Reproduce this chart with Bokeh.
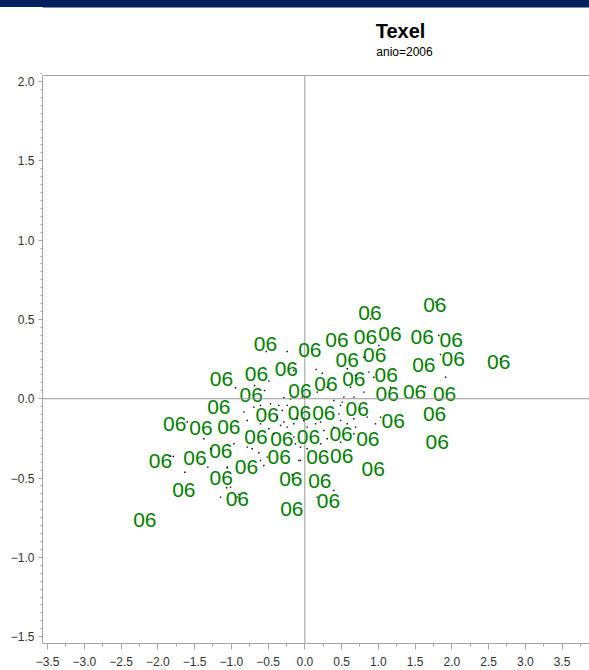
from bokeh.plotting import figure
from bokeh.models import Span, FixedTicker, CustomJSTickFormatter, Range1d, ColumnDataSource
from bokeh.core.properties import value
from bokeh.embed import file_html
from bokeh.resources import INLINE

title_text = "Texel"
subtitle_text = "anio=2006"

# positions of the "06" marker characters (dimension 1, dimension 2)
label_x = [0.887, 1.769, -0.535, 0.068, 0.438, 0.826, 1.159, 1.597, 1.992, 0.577,
           0.952, 1.619, 2.019, 2.639, -1.133, -0.657, -0.252, 0.288, 0.667, 1.107,
           -0.065, -0.729, 1.121, 1.493, 1.901, -1.170, -0.512, -0.072, 0.259, 0.713,
           1.765, -1.769, -1.412, -1.034, 1.203, -1.143, -0.664, -0.313, 0.050, 0.493,
           0.857, 1.801, -1.963, -1.494, -0.348, 0.177, 0.503, -1.137, -0.793, -0.190,
           0.204, 0.931, -1.646, -0.918, 0.322, -0.177, -2.177]
label_y = [0.539, 0.588, 0.347, 0.305, 0.368, 0.388, 0.410, 0.388, 0.368, 0.246,
           0.273, 0.210, 0.252, 0.231, 0.125, 0.158, 0.188, 0.093, 0.126, 0.147,
           0.049, 0.021, 0.032, 0.042, 0.027, -0.049, -0.105, -0.090, -0.090, -0.063,
           -0.095, -0.162, -0.184, -0.181, -0.141, -0.332, -0.242, -0.252, -0.244, -0.223,
           -0.252, -0.274, -0.392, -0.375, -0.368, -0.368, -0.358, -0.498, -0.433, -0.509,
           -0.517, -0.441, -0.576, -0.633, -0.646, -0.694, -0.763]
label_text = ["06"] * len(label_x)

# small black points
dot_x = [-0.525, -0.240, 0.155, 0.237, -0.150, -0.490, -0.548, -0.684, -0.943, -0.286,
         -0.195, -0.035, 0.169, 0.305, 0.395, 0.509, 0.667, -0.694, -0.603, -0.467,
         -0.354, -0.240, -0.308, -0.376, -0.286, -0.331, -0.240, -0.150, -0.104, -0.014,
         0.032, 0.146, 0.214, 0.259, 0.395, 0.486, 0.577, 0.690, -0.830, -0.784,
         -0.603, -0.490, -0.422, -0.150, -0.127, -0.059, 0.032, 0.214, 0.305, 0.486,
         -0.784, -0.966, -0.603, -0.512, -0.716, -1.283, -1.600, -1.374, -1.827, -1.633,
         -1.056, -0.059, 0.169, 0.395, -1.147, -0.920, -1.011,
         0.577, 0.690, 0.871, 0.939, 0.803, 0.622, 0.531, 0.486, 0.463, 0.667,
         0.849, 1.030, 0.962, 1.166, 1.642, 1.914, 1.823, 1.846, 0.894, 1.007,
         0.803, 0.667, 1.782, 2.663,
         -1.790, -1.320, -1.056, -1.065, -0.558, -0.626, -0.082, -0.171, -0.898]
dot_y = [0.298, 0.298, 0.185, 0.161, 0.178, 0.111, 0.052, 0.084, 0.069, 0.006,
         -0.001, 0.010, 0.042, 0.073, -0.011, -0.021, 0.010, -0.053, -0.042, -0.032,
         -0.042, -0.042, -0.074, -0.116, -0.147, -0.168, -0.179, -0.158, -0.126, -0.137,
         -0.179, -0.158, -0.147, -0.200, -0.179, -0.137, -0.158, -0.179, -0.084, -0.137,
         -0.158, -0.189, -0.221, -0.242, -0.284, -0.305, -0.315, -0.284, -0.252, -0.274,
         -0.305, -0.284, -0.389, -0.368, -0.315, -0.315, -0.147, -0.252, -0.362, -0.463,
         -0.431, -0.389, -0.620, -0.578, -0.620, -0.620, -0.557,
         0.189, 0.147, 0.168, 0.136, 0.042, 0.073, 0.010, -0.042, -0.095, -0.126,
         -0.116, -0.116, -0.158, 0.073, 0.073, 0.136, 0.399, 0.279, 0.504, 0.336,
         0.262, -0.221, 0.609, 0.252,
         -0.364, -0.431, -0.435, -0.561, -0.421, -0.340, -0.389, -0.479, -0.603]

x_ticks = [-3.5, -3.0, -2.5, -2.0, -1.5, -1.0, -0.5, 0.0, 0.5, 1.0, 1.5, 2.0, 2.5, 3.0, 3.5]
y_ticks = [-1.5, -1.0, -0.5, 0.0, 0.5, 1.0, 1.5, 2.0]
x_lo, x_hi = -3.569, 3.873
y_lo, y_hi = -1.543, 2.038

FONT = "Liberation Sans"
AXIS_COLOR = "#a6a6a6"
REF_COLOR = "#9a9a9a"

W, H = 589, 670
LEFT, BOTTOM = 42, 27
TOP_PAD = 75                         # pixels between figure top and the axis area top
frame_h = H - BOTTOM                 # frame reaches the figure top
ppu = (frame_h - TOP_PAD) / (y_hi - y_lo)
y_top = y_hi + TOP_PAD / ppu
ppx = (W - LEFT) / (x_hi - x_lo)

def px_to_x(px):
    return x_lo + (px - LEFT) / ppx

def py_to_y(py):
    return y_top - py / ppu

p = figure(width=W, height=H, output_backend="svg", toolbar_location=None,
           x_range=Range1d(x_lo, x_hi), y_range=Range1d(y_lo, y_top),
           min_border_left=LEFT, min_border_right=0, min_border_top=0, min_border_bottom=BOTTOM)
p.styles = {"background": "linear-gradient(#002060 0px, #002060 7px, #ffffff 7px, #ffffff 100%)"}
p.border_fill_color = None
p.background_fill_color = None
p.outline_line_color = None
p.xgrid.visible = False
p.ygrid.visible = False

x_minor = [-3.75 + 0.25 * i for i in range(31)]
y_minor = [round(-1.55 + 0.05 * i, 2) for i in range(73)]
p.xaxis.ticker = FixedTicker(ticks=x_ticks, minor_ticks=x_minor)
p.yaxis.ticker = FixedTicker(ticks=y_ticks, minor_ticks=y_minor)
p.yaxis.bounds = (y_lo, y_hi)
fmt = CustomJSTickFormatter(code="return tick.toFixed(1).replace('-', '\u2212');")
for ax in (p.xaxis, p.yaxis):
    ax.formatter = fmt
    ax.axis_line_color = AXIS_COLOR
    ax.major_tick_line_color = AXIS_COLOR
    ax.minor_tick_line_color = AXIS_COLOR
    ax.major_tick_in = 0
    ax.minor_tick_in = 0
    ax.major_label_text_font = FONT
    ax.major_label_text_font_size = "12px"
    ax.major_label_text_color = "#333333"
p.xaxis.major_tick_out = 6
p.xaxis.minor_tick_out = 3
p.xaxis.major_label_standoff = 7
p.yaxis.major_tick_out = 4
p.yaxis.minor_tick_out = 2
p.yaxis.major_label_standoff = 4

# band at top (inside frame part) as fallback
p.quad(left=x_lo, right=x_hi, top=y_top, bottom=py_to_y(7), fill_color="#002060", line_color=None)

# reference lines and frame top
p.add_layout(Span(location=0, dimension="width", line_color=REF_COLOR, line_width=1))
p.segment(x0=[0], y0=[y_lo], x1=[0], y1=[y_hi], line_color=REF_COLOR, line_width=1)
p.segment(x0=[x_lo], y0=[y_hi], x1=[x_hi], y1=[y_hi], line_color=AXIS_COLOR, line_width=1)

src = ColumnDataSource(dict(x=label_x, y=label_y, t=label_text))
p.text(x="x", y="y", text="t", source=src, text_align="center", text_baseline="middle",
       text_font=value(FONT), text_font_size="21px", text_color="#008000")
p.scatter(x=dot_x, y=dot_y, marker="square", size=1.4, fill_color="black", line_color=None)

p.text(x=[px_to_x(400)], y=[py_to_y(30)], text=[title_text], text_align="center",
       text_baseline="alphabetic", text_font=value(FONT), text_font_size="20px",
       text_font_style="bold", text_color="black")
p.text(x=[px_to_x(404)], y=[py_to_y(51)], text=[subtitle_text], text_align="center",
       text_baseline="alphabetic", text_font=value(FONT), text_font_size="12px",
       text_color="black")

open("out.html", "w").write(file_html(p, INLINE))
